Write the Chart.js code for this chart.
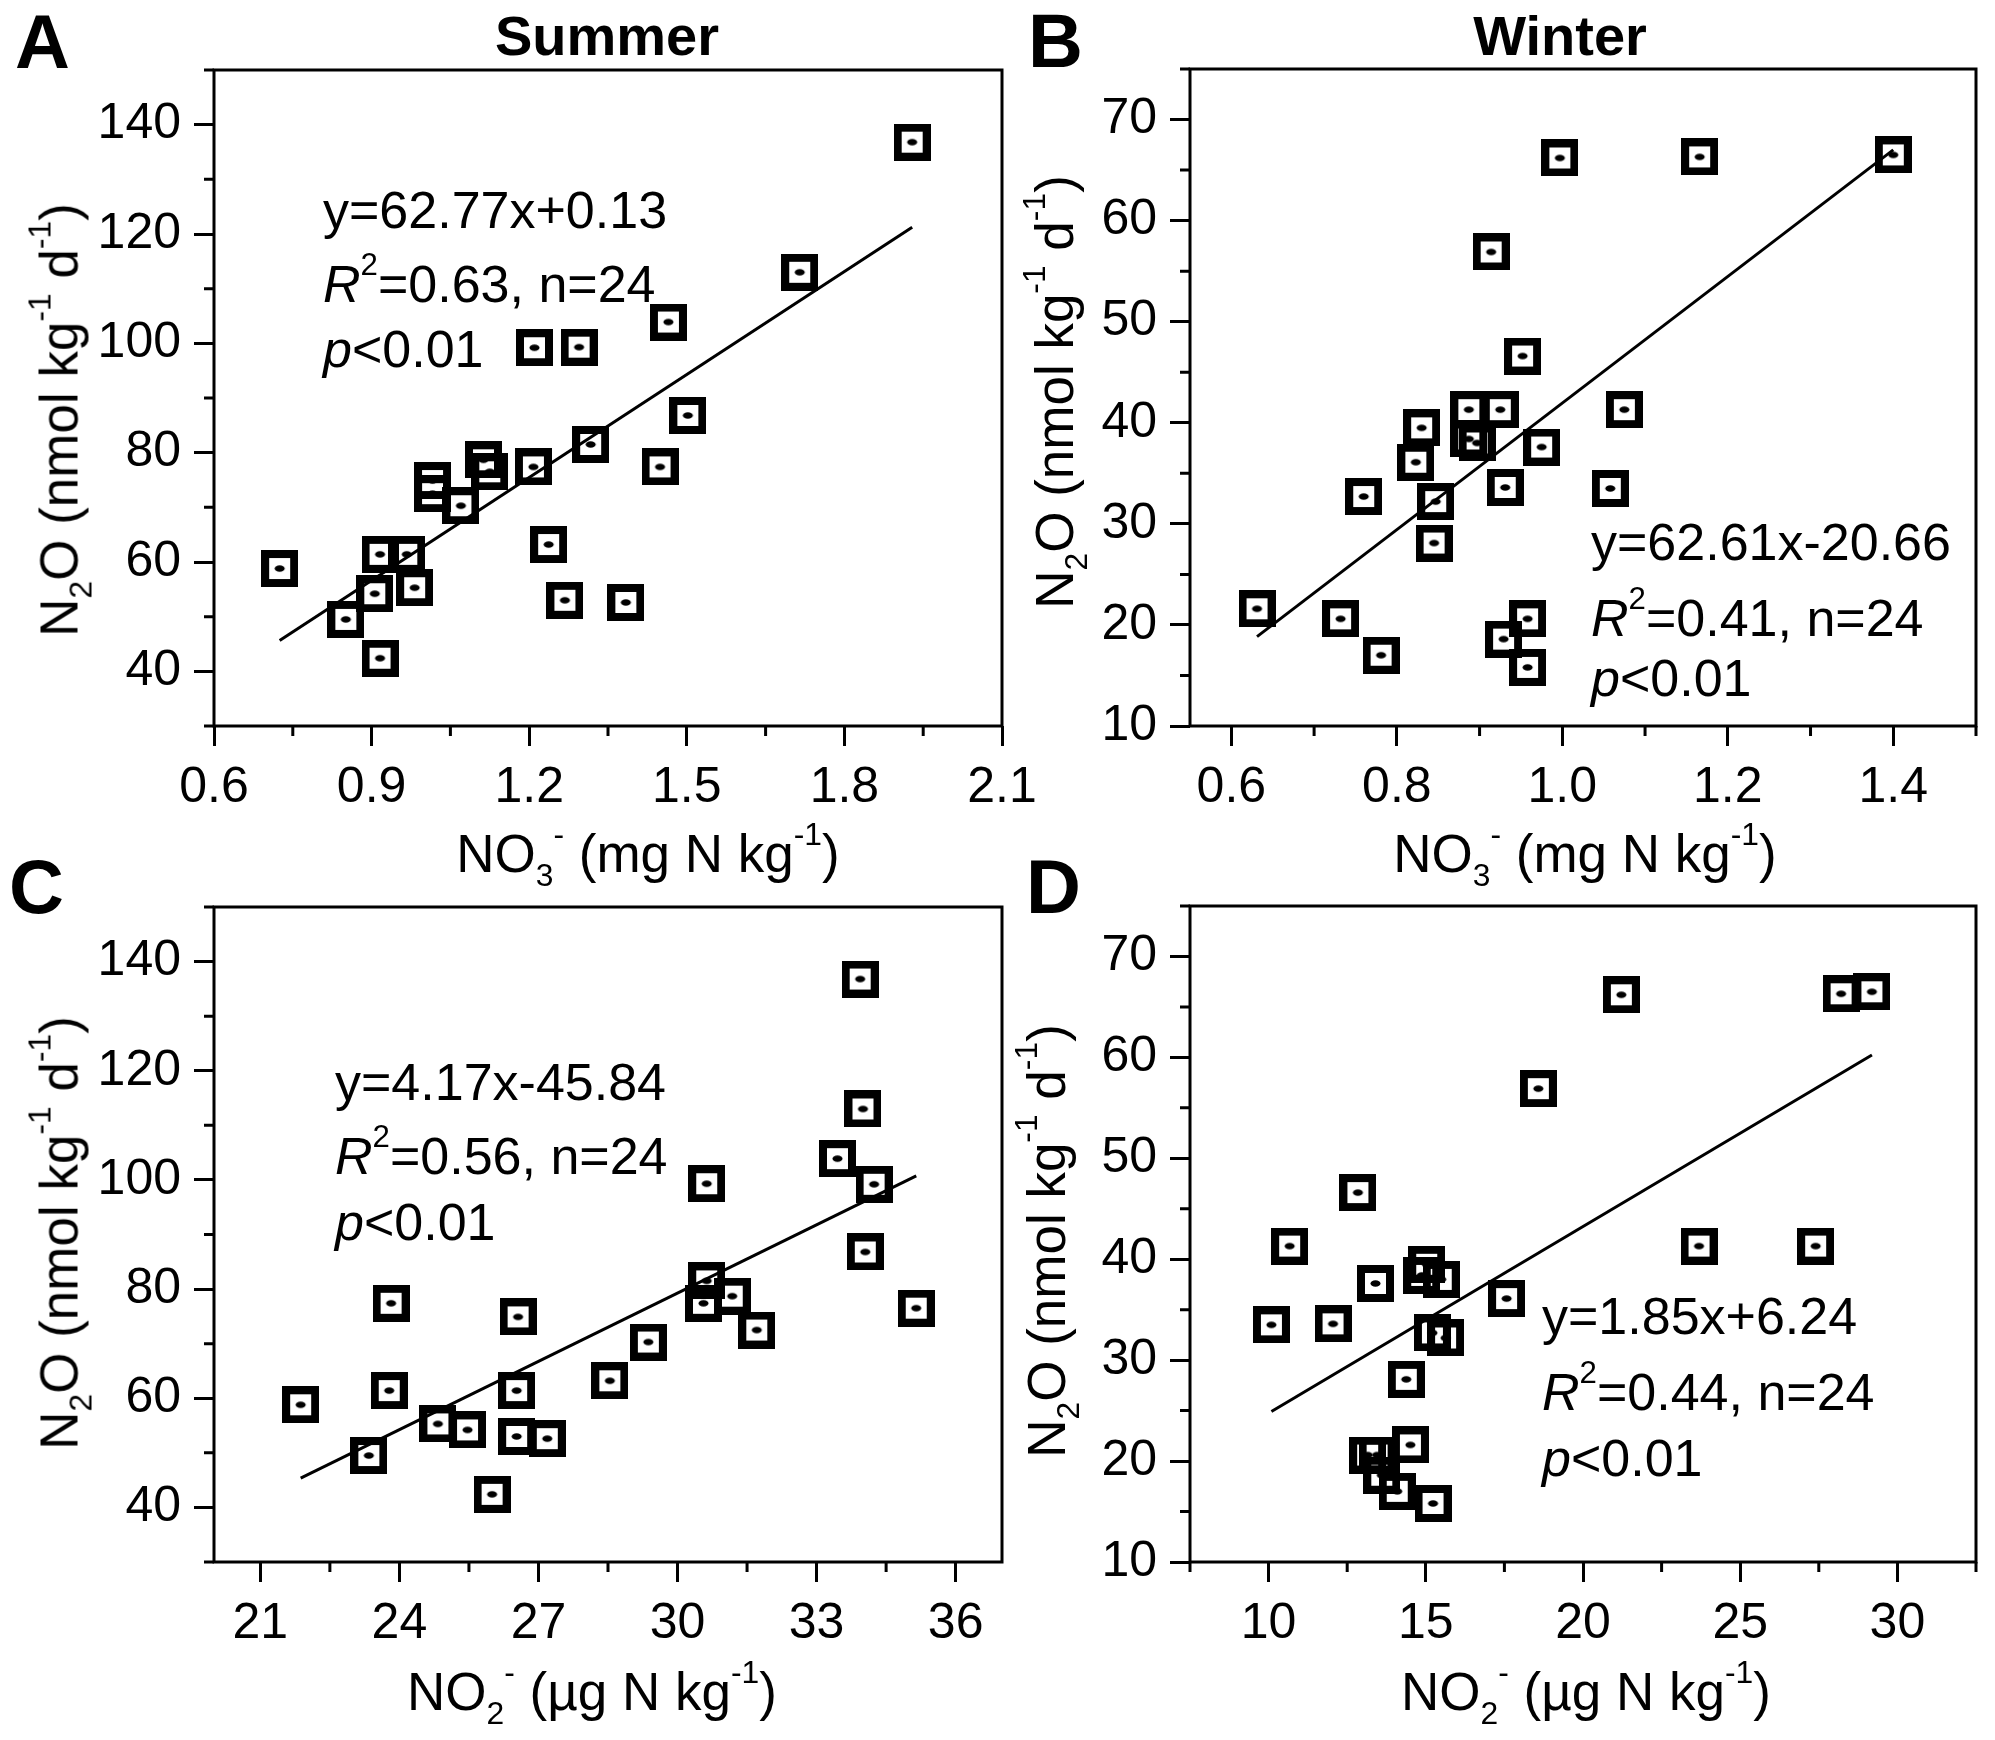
<!DOCTYPE html>
<html>
<head>
<meta charset="utf-8">
<title>N2O vs NO3- / NO2-</title>
<script src="https://cdn.jsdelivr.net/npm/chart.js@4.4.0/dist/chart.umd.min.js"></script>
<style>
    html, body { margin: 0; padding: 0; background: #fff; }
    #page { position: relative; width: 1995px; height: 1740px; overflow: hidden;
            font-family: 'Liberation Sans', Arial, sans-serif; color: #000; }
    canvas { position: absolute; }
    .t { position: absolute; white-space: nowrap; line-height: 1; }
    .t sub, .t sup { font-size: 0.6em; line-height: 0; }
    .t sub { vertical-align: -0.45em; }
    .t sup { vertical-align: 0.85em; }
    .letter { font-size: 76px; font-weight: bold; }
    .season { font-size: 56px; font-weight: bold; transform: translateX(-50%); }
    .xt { font-size: 53px; transform: translateX(-50%); }
    .yt { font-size: 53px; transform: translate(-50%, -50%) rotate(-90deg); }
    .eq { font-size: 52px; }
</style>
</head>
<body>
<div id="page">
    <canvas id="chartA" width="1040" height="860" style="left:0;top:0"></canvas>
    <canvas id="chartB" width="995" height="860" style="left:1000px;top:0"></canvas>
    <canvas id="chartC" width="1040" height="880" style="left:0;top:860px"></canvas>
    <canvas id="chartD" width="995" height="880" style="left:1000px;top:860px"></canvas>

    <div class="t letter" style="left:15px;top:4px">A</div>
    <div class="t letter" style="left:1028px;top:3px">B</div>
    <div class="t letter" style="left:9px;top:849px">C</div>
    <div class="t letter" style="left:1026px;top:849px">D</div>

    <div class="t season" style="left:607px;top:8px">Summer</div>
    <div class="t season" style="left:1560px;top:8px">Winter</div>

    <div class="t xt" style="left:648px;top:827px">NO<sub>3</sub><sup>-</sup> (mg N kg<sup>-1</sup>)</div>
    <div class="t xt" style="left:1585px;top:827px">NO<sub>3</sub><sup>-</sup> (mg N kg<sup>-1</sup>)</div>
    <div class="t xt" style="left:592px;top:1665px">NO<sub>2</sub><sup>-</sup> (µg N kg<sup>-1</sup>)</div>
    <div class="t xt" style="left:1586px;top:1665px">NO<sub>2</sub><sup>-</sup> (µg N kg<sup>-1</sup>)</div>

    <div class="t yt" style="left:59px;top:420px">N<sub>2</sub>O (nmol kg<sup>-1</sup> d<sup>-1</sup>)</div>
    <div class="t yt" style="left:1054px;top:392px">N<sub>2</sub>O (nmol kg<sup>-1</sup> d<sup>-1</sup>)</div>
    <div class="t yt" style="left:59px;top:1233px">N<sub>2</sub>O (nmol kg<sup>-1</sup> d<sup>-1</sup>)</div>
    <div class="t yt" style="left:1046px;top:1241px">N<sub>2</sub>O (nmol kg<sup>-1</sup> d<sup>-1</sup>)</div>
</div>

<script>
// Summer samples, sorted by N2O; NO3 and NO2 are paired with the same sample
const summerN2O = [42.4, 49.5, 52.6, 53.0, 54.2, 55.3, 58.8, 61.4, 61.4, 63.2, 70.3, 72.5,
                   74.9, 76.5, 77.4, 77.4, 78.7, 81.5, 86.8, 99.2, 99.3, 103.9, 113.0, 136.8];
const summerNO3 = [0.916, 0.851, 1.384, 1.268, 0.906, 0.982, 0.725, 0.916, 0.967, 1.237, 1.07, 1.016,
                   1.016, 1.125, 1.208, 1.449, 1.113, 1.317, 1.502, 1.21, 1.295, 1.465, 1.715, 1.929];
const summerNO2 = [26.0, 23.34, 27.19, 26.53, 25.47, 24.83, 21.87, 23.78, 26.53, 28.54, 29.37, 31.71,
                   26.56, 35.15, 23.82, 30.56, 31.18, 30.63, 34.05, 34.24, 30.63, 33.45, 34.0, 33.94];

// Winter samples
const winterN2O = [15.8, 17.0, 18.6, 20.6, 20.6, 21.6, 28.1, 32.2, 32.7, 33.5, 33.6, 36.1,
                   37.6, 38.0, 38.4, 39.5, 41.3, 41.3, 41.3, 46.6, 56.9, 66.2, 66.3, 66.5];
const winterNO3 = [0.958, 0.781, 0.929, 0.732, 0.958, 0.631, 0.845, 0.847, 0.760, 1.058, 0.931, 0.823,
                   0.975, 0.897, 0.887, 0.830, 0.887, 0.925, 1.075, 0.952, 0.914, 0.997, 1.166, 1.40];
const winterNO2 = [15.23, 14.09, 13.6, 13.15, 13.45, 14.51, 14.38, 15.63, 15.21, 10.09, 12.05, 17.57,
                   13.40, 15.49, 14.87, 15.03, 10.67, 23.69, 27.4, 12.84, 18.58, 21.22, 28.21, 29.19];

// Fits printed on the panels (A, B, C, D)
const fitSlope = [62.77, 62.61, 4.17, 1.85];
const fitIntercept = [0.13, -20.66, -45.84, 6.24];
const fitR2 = [0.63, 0.41, 0.56, 0.44];
const fitN = [24, 24, 24, 24];

// Axis ticks
const no3SummerTicks = [0.6, 0.9, 1.2, 1.5, 1.8, 2.1];
const no3SummerMinor = [0.75, 1.05, 1.35, 1.65, 1.95];
const no3WinterTicks = [0.6, 0.8, 1.0, 1.2, 1.4];
const no3WinterMinor = [0.7, 0.9, 1.1, 1.3, 1.5];
const no2SummerTicks = [21, 24, 27, 30, 33, 36];
const no2SummerMinor = [22.5, 25.5, 28.5, 31.5, 34.5];
const no2WinterTicks = [10, 15, 20, 25, 30];
const no2WinterMinor = [7.5, 12.5, 17.5, 22.5, 27.5, 32.5];
const n2oSummerTicks = [40, 60, 80, 100, 120, 140];
const n2oSummerMinor = [30, 50, 70, 90, 110, 130, 150];
const n2oWinterTicks = [10, 20, 30, 40, 50, 60, 70];
const n2oWinterMinor = [15, 25, 35, 45, 55, 65, 75];

Chart.defaults.font.family = "'Liberation Sans', Arial, sans-serif";
Chart.defaults.color = '#000';

// hollow square with a dot in the middle, like the Origin marker
function makeMarker() {
    const c = document.createElement('canvas');
    c.width = 37;
    c.height = 37;
    const g = c.getContext('2d');
    g.strokeStyle = '#000';
    g.lineWidth = 8;
    g.strokeRect(4, 4, 29, 29);
    g.fillStyle = '#000';
    g.beginPath();
    g.ellipse(18.5, 18.5, 5, 3.2, 0, 0, Math.PI * 2);
    g.fill();
    return c;
}
const marker = makeMarker();

// box frame + minor ticks
const frameAndMinor = {
    id: 'frameAndMinor',
    afterDraw(chart, args, opts) {
        const { ctx, chartArea: a, scales: { x, y } } = chart;
        ctx.save();
        ctx.strokeStyle = '#000';
        ctx.lineWidth = 3;
        ctx.strokeRect(a.left, a.top, a.right - a.left, a.bottom - a.top);
        ctx.beginPath();
        opts.x.forEach(v => {
            const px = x.getPixelForValue(v);
            ctx.moveTo(px, a.bottom);
            ctx.lineTo(px, a.bottom + 10);
        });
        opts.y.forEach(v => {
            const py = y.getPixelForValue(v);
            ctx.moveTo(a.left, py);
            ctx.lineTo(a.left - 10, py);
        });
        ctx.stroke();
        ctx.restore();
    }
};

function axis(min, max, ticks, fmt, isX) {
    return {
        type: 'linear',
        position: isX ? 'bottom' : 'left',
        min,
        max,
        border: { display: false },
        grid: { drawOnChartArea: false, drawTicks: true, tickLength: 20, tickWidth: 3, tickColor: '#000' },
        ticks: {
            autoSkip: false,
            maxRotation: 0,
            padding: isX ? 12 : 13,
            font: { size: 50 },
            color: '#000',
            callback: v => fmt(v),
        },
        afterBuildTicks: s => { s.ticks = ticks.map(v => ({ value: v })); },
        afterFit: s => {
            if (isX) { s.height = 90; } else { s.width = 140; }
            s.paddingLeft = 0;
            s.paddingRight = 0;
            s.paddingTop = 0;
            s.paddingBottom = 0;
        },
    };
}

function drawPanel(id, k, xs, ys, xAxis, yAxis, minor, padding) {
    const x0 = Math.min(...xs);
    const x1 = Math.max(...xs);
    new Chart(document.getElementById(id), {
        type: 'scatter',
        data: {
            datasets: [
                {
                    data: xs.map((x, i) => ({ x, y: ys[i] })),
                    pointStyle: marker,
                    pointRadius: 18,
                },
                {
                    type: 'line',
                    data: [
                        { x: x0, y: fitSlope[k] * x0 + fitIntercept[k] },
                        { x: x1, y: fitSlope[k] * x1 + fitIntercept[k] },
                    ],
                    borderColor: '#000',
                    borderWidth: 3,
                    pointRadius: 0,
                    fill: false,
                },
            ],
        },
        options: {
            responsive: false,
            animation: false,
            layout: { padding },
            scales: { x: xAxis, y: yAxis },
            plugins: {
                legend: { display: false },
                tooltip: { enabled: false },
                frameAndMinor: minor,
            },
        },
        plugins: [frameAndMinor],
    });
}

const one = v => v.toFixed(1);
const int = v => String(Math.round(v));

drawPanel('chartA', 0, summerNO3, summerN2O,
    axis(0.6, 2.1, no3SummerTicks, one, true), axis(30, 150, n2oSummerTicks, int, false),
    { x: no3SummerMinor, y: n2oSummerMinor }, { left: 74, top: 70, right: 38, bottom: 44 });
drawPanel('chartB', 1, winterNO3, winterN2O,
    axis(0.55, 1.5, no3WinterTicks, one, true), axis(10, 75, n2oWinterTicks, int, false),
    { x: no3WinterMinor, y: n2oWinterMinor }, { left: 50, top: 69, right: 18, bottom: 44 });
drawPanel('chartC', 2, summerNO2, summerN2O,
    axis(20, 37, no2SummerTicks, int, true), axis(30, 150, n2oSummerTicks, int, false),
    { x: no2SummerMinor, y: n2oSummerMinor }, { left: 74, top: 47, right: 38, bottom: 88 });
drawPanel('chartD', 3, winterNO2, winterN2O,
    axis(7.5, 32.5, no2WinterTicks, int, true), axis(10, 75, n2oWinterTicks, int, false),
    { x: no2WinterMinor, y: n2oWinterMinor }, { left: 50, top: 46, right: 18, bottom: 88 });

// equation text blocks: left edge and the three baselines of each panel
const eqPlace = [
    { left: 323, lines: [228, 302, 367] },
    { left: 1591, lines: [560, 636, 696] },
    { left: 335, lines: [1100, 1174, 1240] },
    { left: 1542, lines: [1334, 1410, 1476] },
];
const page = document.getElementById('page');
eqPlace.forEach((p, k) => {
    const b = fitIntercept[k];
    const texts = [
        `y=${fitSlope[k].toFixed(2)}x${b < 0 ? '-' : '+'}${Math.abs(b).toFixed(2)}`,
        `<i>R</i><sup>2</sup>=${fitR2[k].toFixed(2)}, n=${fitN[k]}`,
        `<i>p</i>&lt;0.01`,
    ];
    texts.forEach((html, j) => {
        const d = document.createElement('div');
        d.className = 't eq';
        d.style.left = p.left + 'px';
        d.style.top = (p.lines[j] - 44) + 'px';
        d.innerHTML = html;
        page.appendChild(d);
    });
});
</script>
</body>
</html>
